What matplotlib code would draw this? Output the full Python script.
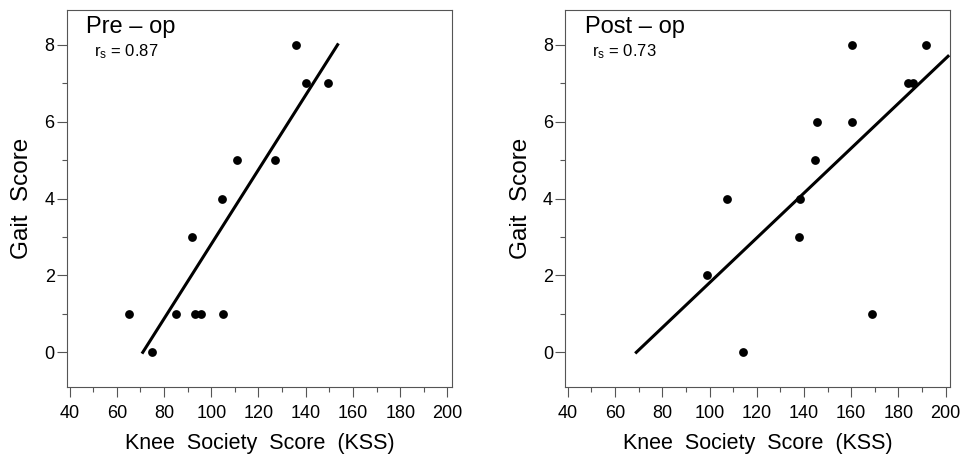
import matplotlib
matplotlib.use("Agg")
import matplotlib.pyplot as plt
from matplotlib.ticker import MultipleLocator

plt.rcParams['font.family'] = ['Liberation Sans', 'DejaVu Sans']
plt.rcParams['mathtext.default'] = 'regular'

# Pre-op data (KSS vs gait score)
pre_kss = [65, 75, 85, 93, 95.5, 105, 92, 104.5, 111, 127, 136, 140, 149.5]
pre_gait = [1, 0, 1, 1, 1, 1, 3, 4, 5, 5, 8, 7, 7]
pre_fit_x = [71, 153.5]
pre_fit_y = [0, 8]

# Post-op data
post_kss = [99, 107.5, 114, 138, 138.5, 144.5, 145.5, 160.5, 160.5, 169, 184, 186, 191.5]
post_gait = [2, 4, 0, 3, 4, 5, 6, 6, 8, 1, 7, 7, 8]
post_fit_x = [69, 201]
post_fit_y = [0, 7.7]

panels = [
    ("Pre \u2013 op", "0.87", pre_kss, pre_gait, pre_fit_x, pre_fit_y),
    ("Post \u2013 op", "0.73", post_kss, post_gait, post_fit_x, post_fit_y),
]

fig = plt.figure(figsize=(9.6, 4.59), dpi=100)
lefts = [0.070, 0.589]

for left, (title, rs, xs, ys, fx, fy) in zip(lefts, panels):
    ax = fig.add_axes([left, 0.157, 0.401, 0.821])
    ax.scatter(xs, ys, s=40, color='black', zorder=3, linewidths=0)
    ax.plot(fx, fy, color='black', lw=2.2)
    ax.set_xlim(39, 202)
    ax.set_ylim(-0.9, 8.9)
    ax.xaxis.set_major_locator(MultipleLocator(20))
    ax.xaxis.set_minor_locator(MultipleLocator(10))
    ax.yaxis.set_major_locator(MultipleLocator(2))
    ax.yaxis.set_minor_locator(MultipleLocator(1))
    ax.tick_params(which='major', direction='out', length=7, width=0.8,
                   labelsize=13, color='#555555')
    ax.tick_params(which='minor', direction='out', length=3.5,
                   width=0.8, color='#555555')
    ax.tick_params(axis='x', pad=6)
    ax.tick_params(axis='y', pad=2)
    for sp in ax.spines.values():
        sp.set_color('#555555')
        sp.set_linewidth(0.8)
    ax.set_xlabel("Knee  Society  Score  (KSS)", fontsize=15.5, labelpad=8)
    ax.set_ylabel("Gait  Score", fontsize=17.5, labelpad=8)
    ax.text(0.05, 0.955, title, transform=ax.transAxes, fontsize=17,
            ha='left', va='center')
    ax.text(0.07, 0.89, r"r$_s$ = " + rs, transform=ax.transAxes,
            fontsize=12, ha='left', va='center')

fig.savefig("out.png", dpi=100)
